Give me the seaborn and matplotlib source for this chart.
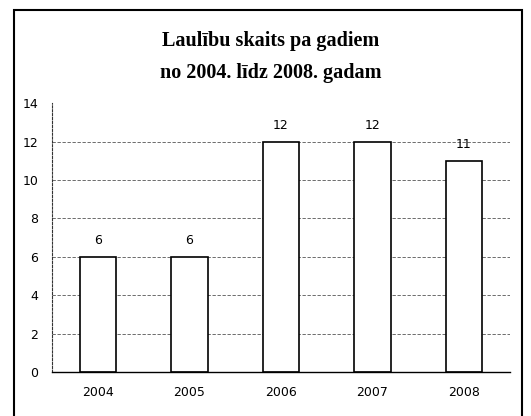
import matplotlib
matplotlib.use("Agg")
import matplotlib.pyplot as plt
import pandas as pd
import seaborn as sns
from matplotlib.patches import Rectangle

years = ["2004", "2005", "2006", "2007", "2008"]
marriages = [6, 6, 12, 12, 11]
y_ticks = [0, 2, 4, 6, 8, 10, 12, 14]

df = pd.DataFrame({"year": years, "count": marriages})

sns.set_style("white")
plt.rcParams["font.family"] = ["DejaVu Sans"]
plt.rcParams["text.color"] = "black"
plt.rcParams["xtick.color"] = "black"
plt.rcParams["ytick.color"] = "black"

fig = plt.figure(figsize=(5.31, 4.16), dpi=100)
ax = fig.add_axes([0.098, 0.106, 0.862, 0.646])

sns.barplot(data=df, x="year", y="count", color="white", edgecolor="black",
            linewidth=1.2, width=0.4, ax=ax)

# value labels above the bars
for i, v in enumerate(marriages):
    ax.text(i, v + 0.85, str(v), ha="center", va="center", fontsize=9)

ax.set_ylim(0, 14)
ax.set_yticks(y_ticks)
ax.set_xlim(-0.5, len(years) - 0.5)
ax.yaxis.grid(True, linestyle=(0, (4, 2)), color="#555555", linewidth=0.6)
ax.get_ygridlines()[-1].set_visible(False)
ax.set_axisbelow(True)
ax.tick_params(axis="both", labelsize=9, length=0, pad=10)
ax.set_xlabel("")
ax.set_ylabel("")
for side in ["top", "right"]:
    ax.spines[side].set_visible(False)
ax.spines["left"].set_linestyle((0, (2, 1.5)))
ax.spines["left"].set_linewidth(0.8)
ax.spines["left"].set_color("#333333")
ax.spines["bottom"].set_linewidth(1.0)
ax.spines["bottom"].set_color("black")

fig.text(0.51, 0.863, "Laulību skaits pa gadiem\nno 2004. līdz 2008. gadam",
         ha="center", va="center", fontsize=14.5, fontweight="bold",
         family="Liberation Serif", linespacing=1.75)

fig.patches.append(Rectangle((0.026, -0.05), 0.957, 1.026, transform=fig.transFigure,
                             fill=False, edgecolor="black", linewidth=1.5))

fig.savefig("out.png", dpi=100)
